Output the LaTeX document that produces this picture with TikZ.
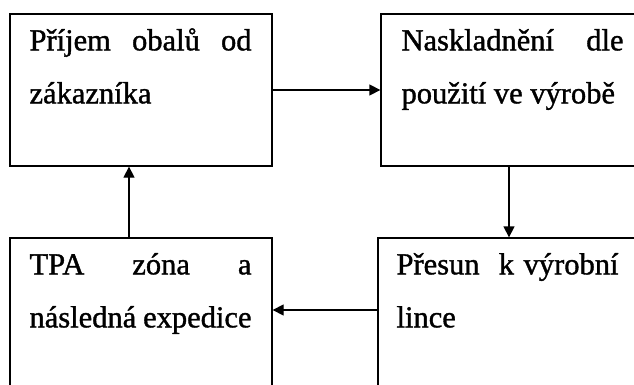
\documentclass[tikz,border=0pt]{standalone}
\usepackage{fontspec}
\setmainfont{Liberation Serif}
\newfontfamily\stepfont[FakeBold=1.2]{Liberation Serif}
\usetikzlibrary{positioning,arrows.meta,calc}

\tikzset{
  stepbox/.style={draw,line width=1.3pt,minimum width=262pt,minimum height=152pt,inner sep=0pt},
  steptext/.style={anchor=base west,inner sep=0pt,text width=222pt,align=justify,
    font=\stepfont\fontsize{30.5}{53}\selectfont},
  flow/.style={-{Triangle[length=11pt,width=11pt]},line width=1.3pt}
}

\begin{document}
\begin{tikzpicture}[x=1pt,y=-1pt]
\useasboundingbox (0,0) rectangle (634,385);
\clip (0,0) rectangle (634,385);
% the four steps (right and bottom edges run off the page)
\node[stepbox] (prijem) at (141,90) {};
\node[stepbox] (sklad) at (512,90) {};
\node[stepbox] (expedice) at (141,314) {};
\node[stepbox] (presun) at (509,314) {};
\node[steptext] (tprijem) at ([xshift=20pt,yshift=-37pt]prijem.north west) {Příjem obalů od zákazníka};
\node[steptext] (tsklad) at ([xshift=21pt,yshift=-37pt]sklad.north west) {Naskladnění dle použití ve výrobě};
\node[steptext] (texpedice) at ([xshift=20pt,yshift=-37pt]expedice.north west) {TPA zóna a následná expedice};
\node[steptext] (tpresun) at ([xshift=19pt,yshift=-37pt]presun.north west) {Přesun~ k výrobní lince};
% flow round the loop
\draw[flow] (prijem.east) -- (sklad.west);
\draw[flow] (sklad.south -| presun.north) -- (presun.north);
\draw[flow] ([yshift=4pt]presun.west) -- ([yshift=4pt]expedice.east);
\draw[flow] ([xshift=-12pt]expedice.north) -- ([xshift=-12pt]prijem.south);
\end{tikzpicture}
\end{document}
